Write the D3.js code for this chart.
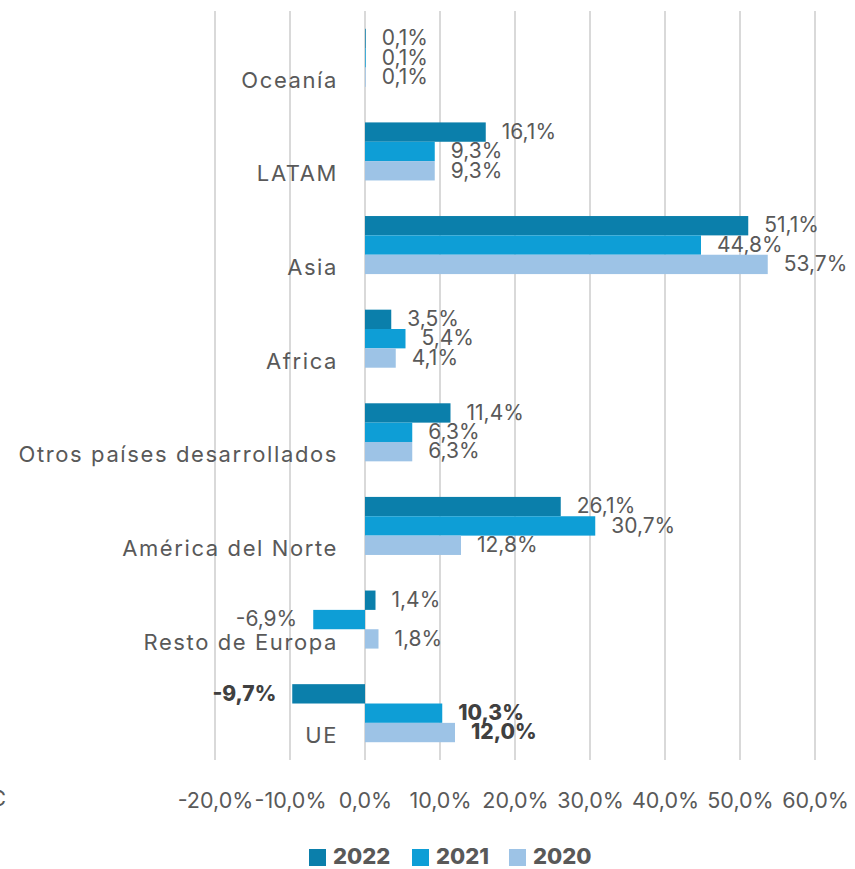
<!DOCTYPE html>
<html>
<head>
<meta charset="utf-8">
<script src="https://cdn.jsdelivr.net/npm/d3@7"></script>
<style>
  body { margin: 0; background: #fff; }
  text { font-family: Inter, "Open Sans", sans-serif; fill: #595959; }
  .grid-line { stroke: #d9d9d9; stroke-width: 2; }
</style>
</head>
<body>
<div class="module-graph"></div>
<script>
"use strict"

const categories = ["Oceanía", "LATAM", "Asia", "Africa", "Otros países desarrollados",
    "América del Norte", "Resto de Europa", "UE"];
const years = ["2022", "2021", "2020"];
const values2022 = [0.1, 16.1, 51.1, 3.5, 11.4, 26.1, 1.4, -9.7];
const values2021 = [0.1, 9.3, 44.8, 5.4, 6.3, 30.7, -6.9, 10.3];
const values2020 = [0.1, 9.3, 53.7, 4.1, 6.3, 12.8, 1.8, 12.0];
const tickValues = [-20, -10, 0, 10, 20, 30, 40, 50, 60];
const boldCategory = "UE";

const colors = { "2022": "#0b7fab", "2021": "#0e9ed6", "2020": "#9dc3e6" };
const seriesValues = { "2022": values2022, "2021": values2021, "2020": values2020 };

let width = 855,
    height = 869;

const svg = d3.select("div.module-graph").append("svg")
    .attr("width", width)
    .attr("height", height);

const scaleX = d3.scaleLinear()
    .domain([-20, 60])
    .range([215, 815]);

const scaleY = d3.scaleBand()
    .domain(categories)
    .range([11, 760])
    .paddingInner(0.38)
    .paddingOuter(0.19);

const scaleYear = d3.scaleBand()
    .domain(years)
    .range([0, scaleY.bandwidth()]);

const fmt = v => v.toFixed(1).replace(".", ",") + "%";

// grid
svg.append("g")
    .selectAll("line")
    .data(tickValues)
    .join("line")
    .attr("class", "grid-line")
    .attr("x1", d => scaleX(d))
    .attr("x2", d => scaleX(d))
    .attr("y1", 11)
    .attr("y2", 760);

// x axis labels
const xAxis = d3.axisBottom(scaleX)
    .tickValues(tickValues)
    .tickSize(0)
    .tickFormat(d => (d < 0 ? "-" : "") + Math.abs(d).toFixed(1).replace(".", ",") + "%");

svg.append("g")
    .attr("class", "x-axis")
    .attr("transform", "translate(0,799)")
    .call(xAxis)
    .call(g => g.select(".domain").remove())
    .selectAll("text")
    .attr("dy", 0)
    .attr("dominant-baseline", "middle")
    .style("font-family", "Inter, sans-serif")
    .style("font-size", "21.5px")
    .style("fill", "#595959");

// bars
const groups = svg.append("g")
    .selectAll("g")
    .data(categories)
    .join("g")
    .attr("transform", d => "translate(0," + scaleY(d) + ")");

years.forEach(yr => {
    groups.append("rect")
        .attr("x", (d, i) => scaleX(Math.min(0, seriesValues[yr][i])))
        .attr("y", scaleYear(yr))
        .attr("width", (d, i) => Math.abs(scaleX(seriesValues[yr][i]) - scaleX(0)))
        .attr("height", scaleYear.bandwidth())
        .attr("fill", colors[yr]);

    groups.append("text")
        .attr("x", (d, i) => {
            const v = seriesValues[yr][i];
            return v < 0 ? scaleX(v) - 16 : scaleX(v) + 16;
        })
        .attr("y", scaleYear(yr) + scaleYear.bandwidth() / 2 + 1)
        .attr("text-anchor", (d, i) => seriesValues[yr][i] < 0 ? "end" : "start")
        .attr("dominant-baseline", "middle")
        .style("font-size", "21px")
        .style("font-weight", d => d === boldCategory ? "800" : "normal")
        .style("fill", d => d === boldCategory ? "#404040" : "#595959")
        .text((d, i) => fmt(seriesValues[yr][i]));
});

// category labels
groups.append("text")
    .attr("x", 338)
    .attr("y", scaleY.bandwidth() / 2 + 24)
    .attr("text-anchor", "end")
    .attr("dominant-baseline", "middle")
    .style("font-size", "22px")
    .style("letter-spacing", "1.6px")
    .text(d => d);

// clipped text at the left edge
svg.append("text")
    .attr("x", -10)
    .attr("y", 800)
    .attr("dominant-baseline", "middle")
    .style("font-size", "22px")
    .text("C");

// legend
const legend = svg.append("g")
    .attr("transform", "translate(309,849)");
const legendX = [0, 103, 200];
years.forEach((yr, i) => {
    legend.append("rect")
        .attr("x", legendX[i])
        .attr("y", 0)
        .attr("width", 17)
        .attr("height", 17)
        .attr("fill", colors[yr]);
    legend.append("text")
        .attr("x", legendX[i] + 24)
        .attr("y", 9)
        .attr("dominant-baseline", "middle")
        .style("font-size", "22px")
        .style("font-weight", "800")
        .text(yr);
});
</script>
</body>
</html>
